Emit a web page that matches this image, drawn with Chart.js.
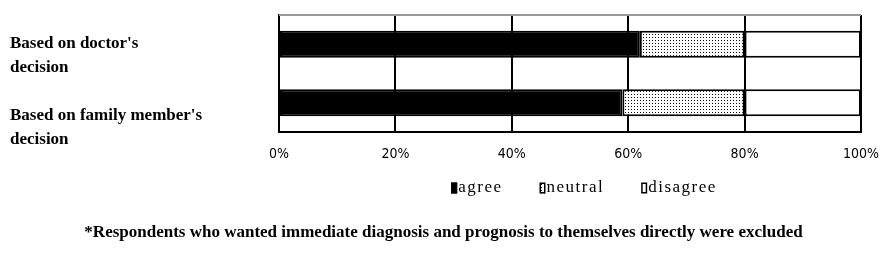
<!DOCTYPE html>
<html>
<head>
<meta charset="utf-8">
<script src="https://cdn.jsdelivr.net/npm/chart.js@4/dist/chart.umd.min.js"></script>
<style>
  html, body { margin: 0; padding: 0; background: #fff; }
  #wrap { width: 887px; height: 266px; }
</style>
</head>
<body>
<div id="wrap"><canvas id="c" width="887" height="266"></canvas></div>
<script>
// datos del grafico
const categories = [["Based on doctor's", "decision"], ["Based on family member's", "decision"]];
const seriesNames = ["agree", "neutral", "disagree"];
const agreeValues = [62, 59];
const neutralValues = [18, 21];
const disagreeValues = [20, 20];
const xTicks = [0, 20, 40, 60, 80, 100];
const footnote = "*Respondents who wanted immediate diagnosis and prognosis to themselves directly were excluded";

// patron punteado para "neutral"
function dotPattern() {
  const p = document.createElement("canvas");
  p.width = 3; p.height = 3;
  const g = p.getContext("2d");
  g.fillStyle = "#fff";
  g.fillRect(0, 0, 3, 3);
  g.fillStyle = "#000";
  g.fillRect(1, 1, 1, 1);
  return g.createPattern(p, "repeat");
}
const ctx = document.getElementById("c").getContext("2d");
const dots = dotPattern();

// etiquetas del eje y, borde superior, leyenda y nota al pie
const extras = {
  id: "extras",
  afterDraw(chart) {
    const c = chart.ctx;
    const a = chart.chartArea;
    const y = chart.scales.y;
    c.save();
    // borde superior gris
    c.strokeStyle = "#999";
    c.lineWidth = 2;
    c.beginPath();
    c.moveTo(a.left, a.top);
    c.lineTo(a.right, a.top);
    c.stroke();

    // etiquetas de categorias
    c.font = "bold 17px 'Liberation Serif'";
    c.fillStyle = "#000";
    c.textBaseline = "middle";
    const shift = [-1, 13];
    categories.forEach((lines, i) => {
      const py = y.getPixelForValue(i) + shift[i];
      lines.forEach((t, k) => c.fillText(t, 10, py + k * 24));
    });

    // leyenda
    c.font = "17px 'Liberation Serif'";
    c.letterSpacing = "1.5px";
    const gap = 37, boxW = 6, boxH = 11, ly = 188;
    const items = chart.data.datasets.map(d => ({ label: d.label, fill: d.backgroundColor, w: boxW + 1 + c.measureText(d.label).width }));
    const total = items.reduce((s, it) => s + it.w, 0) + gap * (items.length - 1);
    let x = (a.left + a.right) / 2 + 14 - total / 2;
    items.forEach(it => {
      c.fillStyle = it.fill;
      c.fillRect(x, ly - boxH / 2, boxW, boxH);
      c.strokeStyle = "#000";
      c.lineWidth = 1.5;
      c.strokeRect(x + 0.75, ly - boxH / 2 + 0.75, boxW - 1.5, boxH - 1.5);
      c.fillStyle = "#000";
      c.textAlign = "left";
      c.fillText(it.label, x + boxW + 1, ly);
      x += it.w + gap;
    });

    // nota al pie
    c.font = "bold 17px 'Liberation Serif'";
    c.letterSpacing = "0px";
    c.textAlign = "center";
    c.fillText(footnote, chart.width / 2, 233);
    c.restore();
  }
};

const seriesValues = [agreeValues, neutralValues, disagreeValues];
const seriesFills = ["#000", dots, "#fff"];

new Chart(ctx, {
  type: "bar",
  data: {
    labels: categories.map(l => l.join(" ")),
    datasets: seriesNames.map((name, i) => ({
      label: name,
      data: seriesValues[i],
      backgroundColor: seriesFills[i],
      borderColor: "#000", borderWidth: 2, borderSkipped: false,
      barPercentage: 0.46, categoryPercentage: 1
    }))
  },
  options: {
    indexAxis: "y",
    responsive: false,
    animation: false,
    layout: { padding: { left: 0, right: 26, top: 15, bottom: 104 } },
    scales: {
      x: {
        stacked: true, min: 0, max: 100,
        afterBuildTicks: s => { s.ticks = xTicks.map(v => ({ value: v })); },
        afterFit: s => { s.height = 30; s.paddingLeft = 0; s.paddingRight = 0; },
        grid: { color: "#000", lineWidth: 2, drawTicks: false },
        border: { color: "#000", width: 2 },
        ticks: {
          padding: 14, color: "#000", maxRotation: 0,
          font: { family: "'Liberation Sans Narrow', 'DejaVu Sans Condensed', 'Liberation Serif'", size: 14 },
          callback: v => v + "%"
        }
      },
      y: {
        stacked: true,
        afterFit: s => { s.width = 279; },
        grid: { display: false },
        border: { color: "#000", width: 2 },
        ticks: { display: false }
      }
    },
    plugins: {
      legend: { display: false },
      tooltip: { enabled: false }
    }
  },
  plugins: [extras]
});
</script>
</body>
</html>
